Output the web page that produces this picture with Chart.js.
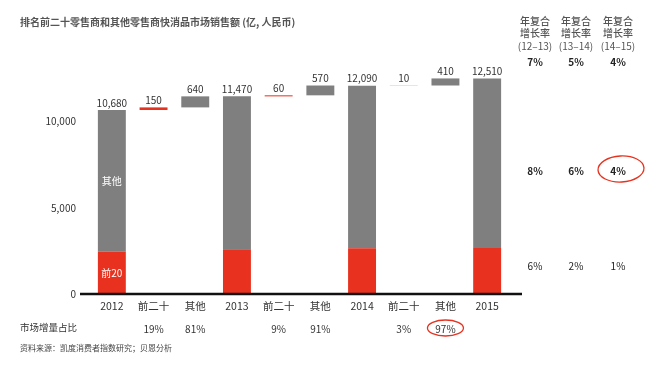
<!DOCTYPE html>
<html>
<head>
<meta charset="utf-8">
<script src="https://cdn.jsdelivr.net/npm/chart.js@4.4.1/dist/chart.umd.min.js"></script>
<style>
  html, body { margin: 0; padding: 0; background: #fff; }
  #wrap { position: relative; width: 657px; height: 374px; font-family: "Noto Sans CJK SC", sans-serif; color: #333; }
  #wrap canvas { position: absolute; left: 0; top: 0; }
  .t { position: absolute; white-space: nowrap; line-height: 1; }
  .col { position: absolute; width: 50px; text-align: center; line-height: 1; white-space: nowrap; }
</style>
</head>
<body>
<div id="wrap">
  <canvas id="chart" width="657" height="374"></canvas>
  <div class="t" style="left:20px;top:17px;font-size:10px;font-weight:bold;color:#555;">排名前二十零售商和其他零售商快消品市场销售额 (亿, 人民币)</div>
  <div class="t" style="left:20px;top:323px;font-size:9.5px;color:#333;">市场增量占比</div>
  <div class="t" style="left:20px;top:344px;font-size:8px;color:#444;">资料来源：凯度消费者指数研究；贝恩分析</div>
  <div id="table"></div>
</div>
<script>
// 数据
const categories = ['2012', '前二十', '其他', '2013', '前二十', '其他', '2014', '前二十', '其他', '2015'];
const yearTotals = [10680, 11470, 12090, 12510];
const top20Base = [2450, 2600, 2660, 2670];   // 前20 每年的销售额(估计)
const top20Growth = [150, 60, 10];
const otherGrowth = [640, 570, 410];
const growthShare = ['', '19%', '81%', '', '9%', '91%', '', '3%', '97%', ''];
const yTicks = [0, 5000, 10000];

// 右侧年复合增长率表
const cagrPeriods = ['(12–13)', '(13–14)', '(14–15)'];
const cagrTotal = ['7%', '5%', '4%'];
const cagrOther = ['8%', '6%', '4%'];
const cagrTop20 = ['6%', '2%', '1%'];

const RED = '#e8321f';
const GRAY = '#7f7f7f';

// 组装瀑布图数据
const redData = [];
const grayData = [];
const barLabels = [];
yearTotals.forEach((total, i) => {
    redData.push([0, top20Base[i]]);
    grayData.push([top20Base[i], total]);
    barLabels.push(total.toLocaleString('en-US'));
    if (i < top20Growth.length) {
        const mid = total + top20Growth[i];
        redData.push([total, mid]);
        grayData.push(null);
        barLabels.push(String(top20Growth[i]));
        redData.push(null);
        grayData.push([mid, mid + otherGrowth[i]]);
        barLabels.push(String(otherGrowth[i]));
    }
});

// 右侧表格
const colX = [535, 576, 618];
const table = document.getElementById('table');
colX.forEach((cx, i) => {
    const add = (text, top, style) => {
        const d = document.createElement('div');
        d.className = 'col';
        d.style.left = (cx - 25) + 'px';
        d.style.top = top + 'px';
        d.style.cssText += style;
        d.textContent = text;
        table.appendChild(d);
    };
    add('年复合', 16, 'font-size:10px;color:#555;font-weight:500;');
    add('增长率', 28, 'font-size:10px;color:#555;font-weight:500;');
    add(cagrPeriods[i], 41, 'font-size:10px;color:#555;');
    add(cagrTotal[i], 57, 'font-size:10px;font-weight:bold;color:#222;');
    add(cagrOther[i], 166, 'font-size:10px;font-weight:bold;color:#222;');
    add(cagrTop20[i], 261, 'font-size:10px;color:#222;');
});

// 标签、底线和圈注
const labelPlugin = {
    id: 'labels',
    afterDatasetsDraw(chart) {
        const ctx = chart.ctx;
        const x = chart.scales.x;
        const y = chart.scales.y;
        const y0 = y.getPixelForValue(0);
        ctx.save();

        ctx.strokeStyle = '#111';
        ctx.lineWidth = 2.5;
        ctx.beginPath();
        ctx.moveTo(80, y0);
        ctx.lineTo(522, y0);
        ctx.stroke();

        ctx.font = '10px "Noto Sans CJK SC"';
        ctx.fillStyle = '#333';
        ctx.textAlign = 'center';
        ctx.textBaseline = 'middle';
        categories.forEach((c, i) => {
            const ends = [redData[i], grayData[i]].filter(Boolean).map(d => d[1]);
            const top = Math.max(...ends);
            ctx.fillText(barLabels[i], x.getPixelForValue(i), y.getPixelForValue(top) - 7);
            if (growthShare[i]) {
                ctx.fillText(growthShare[i], x.getPixelForValue(i), 329);
            }
        });

        // 2012 柱内标签
        ctx.fillStyle = '#fff';
        const x0 = x.getPixelForValue(0);
        ctx.fillText('其他', x0, (y.getPixelForValue(top20Base[0]) + y.getPixelForValue(yearTotals[0])) / 2);
        ctx.fillText('前20', x0, (y0 + y.getPixelForValue(top20Base[0])) / 2);

        // 红色圈注
        ctx.strokeStyle = RED;
        ctx.lineWidth = 1.3;
        ctx.beginPath();
        ctx.ellipse(x.getPixelForValue(8), 328, 18, 8, 0, 0, Math.PI * 2);
        ctx.stroke();
        ctx.beginPath();
        ctx.ellipse(621, 169, 23, 13, -0.05, 0, Math.PI * 2);
        ctx.stroke();
        ctx.restore();
    }
};

new Chart(document.getElementById('chart'), {
    type: 'bar',
    data: {
        labels: categories,
        datasets: [
            { label: '前20', data: redData, backgroundColor: RED, grouped: false, borderWidth: 0 },
            { label: '其他', data: grayData, backgroundColor: GRAY, grouped: false, borderWidth: 0 }
        ]
    },
    options: {
        responsive: false,
        animation: false,
        layout: { padding: { top: 70, right: 149, left: 0, bottom: 0 } },
        datasets: { bar: { categoryPercentage: 1, barPercentage: 0.67 } },
        plugins: { legend: { display: false }, tooltip: { enabled: false } },
        scales: {
            x: {
                grid: { display: false, drawTicks: false },
                border: { display: false },
                ticks: { padding: 6, color: '#333', font: { family: 'Noto Sans CJK SC', size: 10.5 } },
                afterFit: (s) => { s.height = 80; }
            },
            y: {
                min: 0,
                max: 13000,
                grid: { display: false, drawTicks: false },
                border: { display: false },
                afterBuildTicks: (s) => { s.ticks = yTicks.map(v => ({ value: v })); },
                ticks: {
                    padding: 15,
                    color: '#333',
                    font: { family: 'Noto Sans CJK SC', size: 10 },
                    callback: (v) => v.toLocaleString('en-US')
                },
                afterFit: (s) => { s.width = 91; }
            }
        }
    },
    plugins: [labelPlugin]
});
</script>
</body>
</html>
